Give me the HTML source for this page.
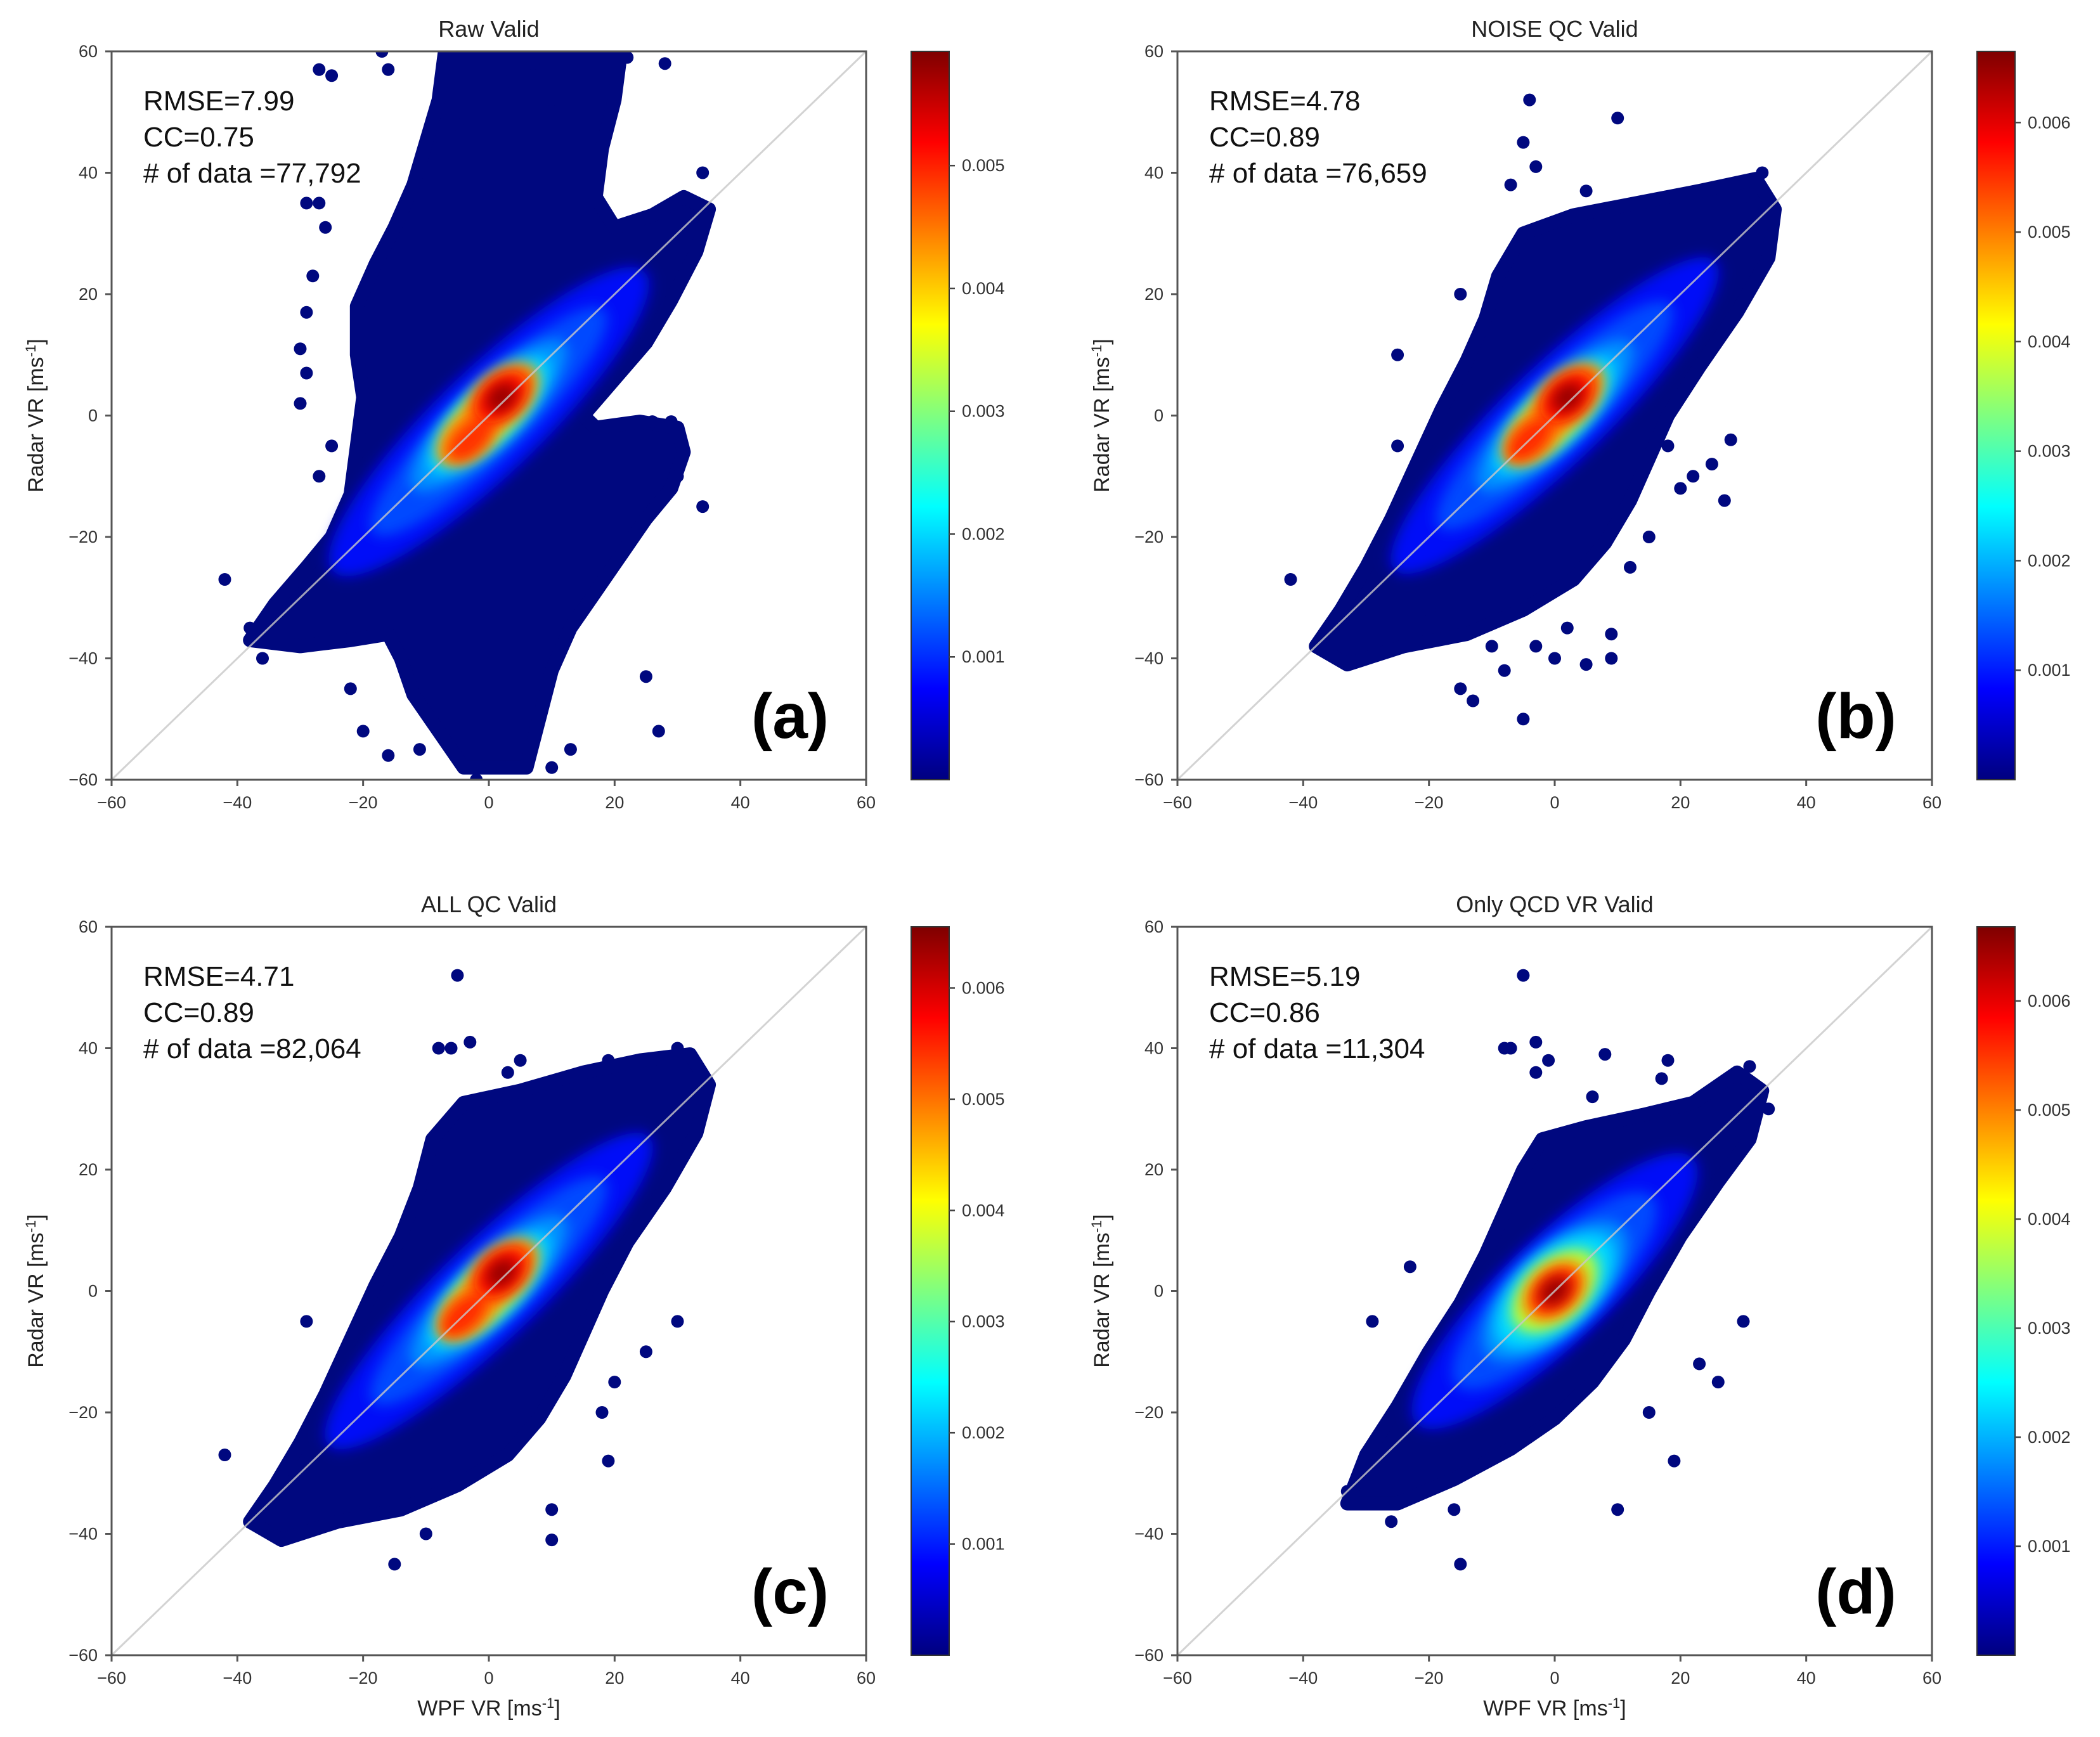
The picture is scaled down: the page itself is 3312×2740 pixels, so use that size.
<!DOCTYPE html>
<html><head><meta charset="utf-8"><style>
html,body{margin:0;padding:0;background:#fff;}
svg{display:block;font-family:"Liberation Sans",sans-serif;}
</style></head><body>
<svg id="fig" width="3312" height="2740" viewBox="0 0 3312 2740" xmlns="http://www.w3.org/2000/svg">
<defs>
<linearGradient id="jet" x1="0" y1="1" x2="0" y2="0">
<stop offset="0" stop-color="#00007f"/><stop offset="0.125" stop-color="#0000ff"/><stop offset="0.375" stop-color="#00ffff"/><stop offset="0.625" stop-color="#ffff00"/><stop offset="0.875" stop-color="#ff0000"/><stop offset="1" stop-color="#7f0000"/>
</linearGradient>
<filter id="blur" x="-50%" y="-50%" width="200%" height="200%"><feGaussianBlur stdDeviation="1.1"/></filter>
</defs>
</svg>
<script>
// ---------- data ----------
const panelTitles = ["Raw Valid","NOISE QC Valid","ALL QC Valid","Only QCD VR Valid"];
const panelLetters = ["(a)","(b)","(c)","(d)"];
const rmseValues = ["7.99","4.78","4.71","5.19"];
const ccValues = ["0.75","0.89","0.89","0.86"];
const countValues = ["77,792","76,659","82,064","11,304"];
const axisTicks = [-60,-40,-20,0,20,40,60];
const cbarTicks = [0.001,0.002,0.003,0.004,0.005,0.006];
const cbarMax = [0.00593,0.00665,0.00655,0.00668];
// hull outlines (data coords: WPF VR, Radar VR)
const hullA = [[-38,-37],[-34,-31],[-29,-25],[-25,-20],[-22,-13],[-21,-5],[-20,3],[-21,10],[-21,18],[-18,25],[-15,31],[-12,38],[-10,45],[-8,52],[-7,60],[21,60],[20,52],[18,44],[17,36],[20,31],[26,33],[31,36],[35,34],[33,27],[29,19],[25,12],[20,6],[15,0],[17,-2],[24,-1],[30,-2],[31,-6],[29,-12],[25,-17],[21,-23],[17,-29],[13,-35],[10,-42],[8,-50],[6,-58],[-4,-58],[-8,-52],[-12,-46],[-14,-40],[-16,-36],[-22,-37],[-30,-38]];
const hullB = [[-38,-38],[-34,-32],[-30,-25],[-26,-17],[-22,-8],[-18,1],[-14,9],[-11,16],[-9,23],[-5,30],[3,33],[13,35],[23,37],[32,39],[35,34],[34,26],[29,17],[23,8],[18,0],[15,-7],[12,-14],[8,-21],[3,-27],[-5,-32],[-14,-36],[-24,-38],[-33,-41]];
const hullC = [[-38,-38],[-34,-32],[-30,-25],[-26,-17],[-22,-8],[-18,1],[-14,9],[-11,17],[-9,25],[-4,31],[5,33],[15,36],[24,38],[32,39],[35,34],[33,26],[28,17],[22,8],[18,0],[15,-7],[12,-14],[8,-21],[3,-27],[-5,-32],[-14,-36],[-24,-38],[-33,-41]];
const hullD = [[-33,-35],[-30,-27],[-25,-19],[-20,-10],[-15,-2],[-11,6],[-8,13],[-5,20],[-2,25],[5,27],[14,29],[22,31],[29,36],[33,33],[31,25],[26,18],[20,9],[15,0],[11,-8],[6,-15],[0,-21],[-7,-26],[-16,-31],[-25,-35]];
// density layers: [cx, cy, length along diagonal, width across, colour]
const densA = [[0,-1,70,17,"#0010f8"],[0,-1,52,12,"#0048ff"],[0,0,34,10,"#0090ff"],[0,0,26,9,"#00d8ff"],[0,0,20,8,"#a0ff50"],[-3,-3,13,7,"#ff9a00"],[2,3,14,8,"#ff8000"],[-3,-4,9,5,"#ff3000"],[2,3,10,6.5,"#ff1000"],[2,3,5.5,4,"#9a0000"]];
const densB = [[0,0,72,16,"#0010f8"],[0,0,52,12,"#0048ff"],[0,0,34,10,"#0090ff"],[0,0,26,9,"#00d8ff"],[0,0,20,8,"#a0ff50"],[-3,-3,13,7,"#ff9a00"],[2,3,14,8,"#ff8000"],[-4,-4,9,5,"#ff2a00"],[2,3,10,6.5,"#ff1000"],[2,3,5.5,4,"#9a0000"]];
const densC = [[0,0,72,16,"#0010f8"],[0,0,52,12,"#0048ff"],[0,0,34,10,"#0090ff"],[0,0,26,9,"#00d8ff"],[0,0,20,8,"#a0ff50"],[-3,-3,13,7,"#ff9a00"],[2,3,14,8,"#ff8000"],[-4,-4,9,5,"#ff2a00"],[2,3,10,6.5,"#ff1000"],[2,3,5.5,4,"#9a0000"]];
const densD = [[0,0,62,17,"#0010f8"],[0,0,44,14,"#0048ff"],[0,0,30,13,"#0090ff"],[0,0,24,12,"#00d8ff"],[0,0,17,10,"#b0ff40"],[0,0,12,8,"#ff9a00"],[0,0,9,6,"#ff2000"],[0,0,5.5,4,"#9a0000"]];
// outlier points
const ptsA = [[-27,57],[-25,56],[-16,57],[-17,60],[-29,35],[-27,35],[-26,31],[-28,23],[-29,17],[-30,11],[-29,7],[-30,2],[-25,-5],[-27,-10],[-42,-27],[-38,-35],[-36,-40],[-22,-45],[-20,-52],[-16,-56],[-11,-55],[-2,-60],[3,-58],[10,-58],[13,-55],[25,-43],[27,-52],[34,-15],[30,-10],[26,-1],[29,-1],[34,40],[28,58],[22,59],[7,58],[10,52],[-5,48],[-8,44],[3,55]];
const ptsB = [[-4,52],[10,49],[-3,41],[-7,38],[5,37],[-5,45],[-15,20],[-25,10],[-25,-5],[28,-4],[25,-8],[22,-10],[20,-12],[27,-14],[15,-20],[12,-25],[-13,-47],[-5,-50],[-8,-42],[0,-40],[5,-41],[9,-40],[9,-36],[-10,-38],[-15,-45],[-20,-32],[-42,-27],[2,-35],[-3,-38],[18,-5],[33,40],[30,36]];
const ptsC = [[-5,52],[-3,41],[-8,40],[-6,40],[5,38],[3,36],[15,-5],[20,-15],[25,-10],[30,-5],[19,-28],[10,-36],[10,-41],[-15,-45],[-10,-40],[-42,-27],[-29,-5],[18,-20],[30,40],[19,38],[-36,-36]];
const ptsD = [[-5,52],[-3,41],[-7,40],[-8,40],[-1,38],[8,39],[-3,36],[6,32],[-23,4],[-29,-5],[30,-5],[23,-12],[26,-15],[19,-28],[10,-36],[-15,-45],[-26,-38],[-16,-36],[15,-20],[18,38],[17,35],[34,30],[31,37],[-33,-33]];

const hulls = [hullA,hullB,hullC,hullD];
const dens = [densA,densB,densC,densD];
const pts = [ptsA,ptsB,ptsC,ptsD];

// ---------- layout ----------
const NS = "http://www.w3.org/2000/svg";
const svg = document.getElementById('fig');
const AX_W = 1190, AX_H = 1149;
const origins = [[176,81],[1857,81],[176,1462],[1857,1462]];
const NAVY = "#00087f";
function mk(tag, attrs, parent){
  const e = document.createElementNS(NS, tag);
  for (const k in attrs) e.setAttribute(k, attrs[k]);
  (parent||svg).appendChild(e);
  return e;
}
for (let p=0;p<4;p++){
  const [x0,y0] = origins[p];
  const sx = v => x0 + (v+60)/120*AX_W;
  const sy = v => y0 + (60-v)/120*AX_H;
  const g = mk('g',{});
  
  
  const cp = mk('clipPath',{id:'clip'+p}, g);
  mk('rect',{x:x0,y:y0,width:AX_W,height:AX_H}, cp);
  const plot = mk('g',{'clip-path':'url(#clip'+p+')'}, g);
  
  
  const hp = hulls[p].map(d => sx(d[0]).toFixed(1)+','+sy(d[1]).toFixed(1)).join(' ');
  const hull = mk('polygon',{points:hp, fill:NAVY, stroke:NAVY, 'stroke-width':22, 'stroke-linejoin':'round'}, plot);
  
  
  pts[p].forEach(d => {
    const c = mk('circle',{cx:sx(d[0]).toFixed(1), cy:sy(d[1]).toFixed(1), r:10, fill:NAVY}, plot);
    
    
  });
  const dg = mk('g',{transform:`translate(${sx(0)},${sy(0)}) scale(${AX_W/120},${-AX_H/120})`}, plot);
  dens[p].forEach(d => {
    const e = mk('ellipse',{cx:0,cy:0,rx:d[2]/2,ry:d[3]/2,fill:d[4],filter:'url(#blur)',
      transform:`translate(${d[0]},${d[1]}) rotate(45)`}, dg);
    
    
  });
  const diag = mk('line',{x1:sx(-60),y1:sy(-60),x2:sx(60),y2:sy(60),stroke:'#c8c8c8','stroke-width':3,'stroke-opacity':0.8}, g);
  
  
  const fr = mk('rect',{x:x0,y:y0,width:AX_W,height:AX_H,fill:'none',stroke:'#555','stroke-width':3}, g);
  
  
  axisTicks.forEach(t => {
    mk('line',{x1:sx(t),x2:sx(t),y1:y0+AX_H,y2:y0+AX_H+10,stroke:'#555','stroke-width':3}, g);
    const tx = mk('text',{x:sx(t),y:y0+AX_H+45,'text-anchor':'middle','font-size':27,fill:'#333'}, g);
    tx.textContent = (t<0?'\u2212':'')+Math.abs(t);
    
    
    mk('line',{x1:x0-10,x2:x0,y1:sy(t),y2:sy(t),stroke:'#555','stroke-width':3}, g);
    const ty = mk('text',{x:x0-22,y:sy(t)+9,'text-anchor':'end','font-size':27,fill:'#333'}, g);
    ty.textContent = (t<0?'\u2212':'')+Math.abs(t);
    
    
  });
  const ti = mk('text',{x:x0+AX_W/2,y:y0-23,'text-anchor':'middle','font-size':36,fill:'#222'}, g);
  ti.textContent = panelTitles[p];
  
  
  const lines = ['RMSE='+rmseValues[p], 'CC='+ccValues[p], '# of data ='+countValues[p]];
  lines.forEach((s,i) => {
    const st = mk('text',{x:x0+50,y:y0+93+i*57,'font-size':44,fill:'#111'}, g);
    st.textContent = s;
    
    
  });
  const lt = mk('text',{x:x0+1070,y:y0+1083,'text-anchor':'middle','font-size':100,'font-weight':'bold',fill:'#000'}, g);
  lt.textContent = panelLetters[p];
  
  
  const yl = mk('text',{x:0,y:0,'text-anchor':'middle','font-size':34,fill:'#222',
    transform:`translate(${x0-108},${y0+AX_H/2}) rotate(-90)`}, g);
  yl.innerHTML = 'Radar VR [ms<tspan baseline-shift="super" font-size="22">-1</tspan>]';
  
  
  if (p>=2){
    const xl = mk('text',{x:x0+AX_W/2,y:y0+AX_H+95,'text-anchor':'middle','font-size':34,fill:'#222'}, g);
    xl.innerHTML = 'WPF VR [ms<tspan baseline-shift="super" font-size="22">-1</tspan>]';
    
    
  }
  const cx0 = x0+1261, cw = 60;
  const cb = mk('rect',{x:cx0,y:y0,width:cw,height:AX_H,fill:'url(#jet)',stroke:'#333','stroke-width':2}, g);
  
  
  const cy = v => y0 + AX_H - v/cbarMax[p]*AX_H;
  cbarTicks.filter(v => v <= cbarMax[p]).forEach(v => {
    mk('line',{x1:cx0+cw,x2:cx0+cw+9,y1:cy(v),y2:cy(v),stroke:'#444','stroke-width':2.5}, g);
    const ct = mk('text',{x:cx0+cw+20,y:cy(v)+9,'font-size':27,fill:'#333'}, g);
    ct.textContent = v.toFixed(3);
    
    
  });
}
</script>
</body></html>
